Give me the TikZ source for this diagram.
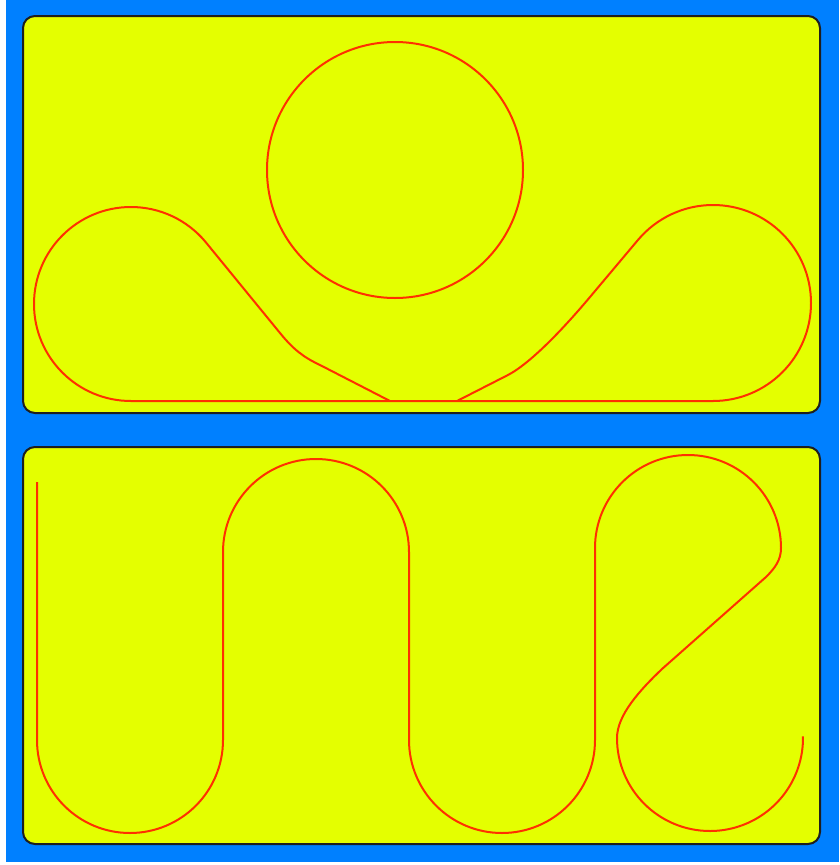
\documentclass[tikz,border=0pt]{standalone}
\usepackage{tikz}
\definecolor{bgblue}{RGB}{0,128,255}
\definecolor{panelyellow}{RGB}{228,255,0}
\definecolor{trackred}{RGB}{255,48,0}
\definecolor{panelborder}{RGB}{30,30,30}
\tikzset{
  panel/.style={fill=panelyellow, draw=panelborder, line width=2pt, rounded corners=12pt},
  track/.style={draw=trackred, line width=2pt, line join=round},
}
\begin{document}
\begin{tikzpicture}[x=1pt, y=-1pt]
\useasboundingbox (0,0) rectangle (839,865);
\fill[white] (0,0) rectangle (839,865);
\fill[bgblue] (6,0) rectangle (839,862);
% panels
\path[panel] (23,16) rectangle (820,413);
\path[panel] (23,447) rectangle (820,844);

% ---------- top panel ----------
% centre circle
\coordinate (cc) at (395,170);
\draw[track] (cc) circle[radius=128];
% left loop and left leg
\coordinate (lb) at (131,401);
\coordinate (rb) at (713,401);
\coordinate (lq) at (280,333);
\coordinate (lc1) at (293,349);
\coordinate (lc2) at (303,357);
\coordinate (lr) at (320,365);
\coordinate (lm) at (390,401);
\draw[track] (rb) -- (lb) arc[start angle=90, end angle=320, radius=97]
  -- (lq) .. controls (lc1) and (lc2) .. (lr) -- (lm);
% right loop and right leg
\coordinate (rq) at (590,297);
\coordinate (rc1) at (564,328);
\coordinate (rc2) at (530,364);
\coordinate (rr) at (507,375.5);
\coordinate (rm) at (457,401);
\draw[track] (rb) arc[start angle=90, end angle=-140, radius=98]
  -- (rq) .. controls (rc1) and (rc2) .. (rr) -- (rm);

% ---------- bottom panel ----------
\coordinate (s0) at (37,482);
\coordinate (s1) at (37,740);
\coordinate (k1) at (781,560);
\coordinate (k2) at (775,568);
\coordinate (k3) at (766,577);
\coordinate (d1) at (662,669);
\coordinate (d1a) at (640,690);
\coordinate (d1b) at (617,715);
\coordinate (d2) at (617,738);
\draw[track] (s0) -- (s1)
  arc[start angle=180, end angle=0, radius=93]
  -- (223,552)
  arc[start angle=180, end angle=360, radius=93]
  -- (409,740)
  arc[start angle=180, end angle=0, radius=93]
  -- (595,548)
  arc[start angle=180, end angle=360, radius=93]
  .. controls (k1) and (k2) .. (k3)
  -- (d1) .. controls (d1a) and (d1b) .. (d2)
  arc[start angle=180, end angle=-1, radius=93];
\end{tikzpicture}
\end{document}
